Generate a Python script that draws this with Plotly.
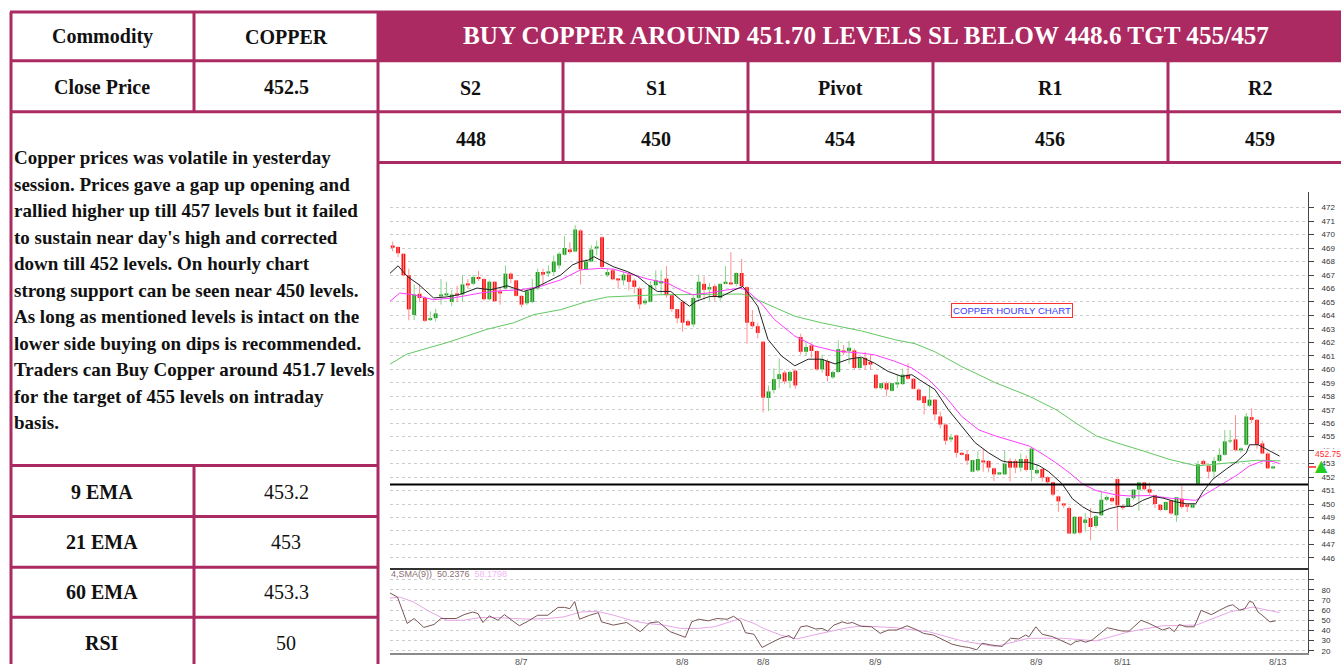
import plotly.graph_objects as go

W, H = 1341, 666

# ---------------- data ----------------
commodity_row = ["Commodity", "COPPER"]
close_row = ["Close Price", "452.5"]
headline = "BUY COPPER AROUND 451.70 LEVELS SL BELOW 448.6 TGT 455/457"
level_names = ["S2", "S1", "Pivot", "R1", "R2"]
level_values = ["448", "450", "454", "456", "459"]
indicator_names = ["9 EMA", "21 EMA", "60 EMA", "RSI"]
indicator_values = ["453.2", "453", "453.3", "50"]
commentary = [
    "Copper prices was volatile in yesterday",
    "session. Prices gave a gap up opening and",
    "rallied higher up till 457 levels but it failed",
    "to sustain near day's high and corrected",
    "down till 452 levels. On hourly chart",
    "strong support can be seen near 450 levels.",
    "As long as mentioned levels is intact on the",
    "lower side buying on dips is recommended.",
    "Traders can Buy Copper around 451.7 levels",
    "for the target of 455 levels on intraday",
    "basis.",
]
chart_title = "COPPER HOURLY CHART"
support_level = 451.45
last_price = 452.75
rsi_legend = "4,SMA(9))  50.2376"
rsi_sma_legend = "58.1798"

candle_open = [
    469.19, 469.07, 468.57, 466.98, 464.03, 465.60, 465.30, 463.65, 463.80, 465.45,
    465.55, 465.00, 465.60, 465.55, 466.35, 466.35, 466.85, 466.70, 465.20, 466.50,
    465.75, 466.00, 467.10, 466.60, 465.45, 464.90, 465.00, 466.00, 467.22, 467.15,
    467.22, 467.71, 468.50, 468.90, 468.75, 470.30, 467.42, 468.00, 469.00, 469.80,
    466.98, 467.35, 466.73, 466.60, 467.03, 466.60, 466.00, 464.90, 465.01, 466.24,
    466.44, 466.73, 465.50, 464.47, 465.00, 463.58, 463.33, 465.30, 466.34, 466.00,
    466.17, 465.30, 466.34, 466.45, 466.34, 467.15, 466.10, 463.53, 463.20, 462.05,
    457.87, 458.46, 459.27, 459.76, 459.15, 459.90, 462.40, 461.30, 461.78, 461.36,
    460.00, 460.60, 459.40, 459.80, 461.40, 461.35, 461.40, 460.10, 460.85, 460.55,
    459.60, 458.60, 458.97, 458.40, 458.90, 458.90, 459.60, 459.30, 458.50, 458.00,
    457.30, 457.75, 456.50, 455.90, 454.80, 455.10, 453.80, 453.70, 452.40, 452.50,
    453.20, 453.20, 452.65, 452.20, 452.20, 453.20, 453.20, 452.70, 453.34, 452.53,
    452.28, 452.60, 452.00, 451.62, 450.57, 450.00, 449.70, 447.82, 449.05, 448.60,
    448.97, 448.36, 449.17, 450.32, 450.45, 451.85, 449.85, 449.85, 450.44, 451.07,
    451.60, 451.10, 450.66, 449.95, 449.55, 450.27, 449.17, 450.39, 449.97, 449.73,
    451.50, 453.20, 452.85, 452.40, 453.20, 453.65, 454.65, 454.80, 454.05, 454.40,
    456.45, 456.25, 454.50, 453.75, 452.70]
candle_high = [
    469.48, 469.14, 468.60, 467.47, 466.30, 466.30, 465.40, 464.30, 464.50, 466.70,
    466.50, 465.90, 466.20, 467.00, 466.70, 467.00, 467.30, 466.75, 466.60, 466.55,
    466.10, 467.70, 467.20, 466.65, 465.50, 466.00, 466.70, 467.47, 467.47, 467.71,
    468.45, 468.70, 469.88, 469.43, 470.70, 470.40, 468.20, 469.20, 469.56, 469.88,
    467.47, 467.47, 466.75, 467.22, 467.22, 466.73, 466.12, 465.26, 466.54, 467.35,
    467.35, 467.66, 465.55, 464.50, 465.10, 463.70, 465.55, 467.03, 466.90, 466.40,
    466.34, 466.40, 467.65, 468.70, 467.20, 468.20, 466.15, 464.40, 463.45, 462.10,
    458.80, 460.07, 460.80, 459.90, 459.90, 460.00, 462.65, 461.97, 461.90, 461.40,
    461.10, 460.75, 459.90, 462.15, 461.80, 462.10, 461.55, 460.90, 461.30, 461.05,
    459.65, 459.00, 459.10, 459.00, 459.60, 460.05, 460.45, 459.35, 458.60, 458.00,
    458.80, 457.80, 456.85, 456.00, 455.20, 455.15, 453.85, 454.00, 453.30, 453.90,
    454.10, 453.25, 452.70, 452.35, 454.00, 453.40, 453.35, 453.75, 453.60, 454.25,
    453.00, 452.65, 452.05, 451.65, 450.64, 450.08, 449.83, 449.10, 449.10, 449.34,
    449.70, 449.20, 450.94, 450.64, 450.55, 451.90, 449.95, 450.50, 451.10, 451.65,
    451.65, 451.60, 450.70, 450.00, 450.20, 450.30, 450.50, 451.37, 450.00, 450.00,
    453.20, 453.30, 452.90, 453.50, 454.15, 455.50, 455.50, 456.60, 454.20, 456.75,
    457.10, 456.30, 454.70, 453.85, 452.85]
candle_low = [
    468.75, 468.33, 466.90, 463.64, 463.65, 465.00, 463.50, 463.60, 463.55, 464.80,
    465.50, 464.70, 465.00, 465.05, 466.00, 466.25, 466.55, 465.10, 465.10, 465.00,
    464.80, 465.90, 466.40, 465.40, 464.60, 464.77, 464.90, 465.87, 466.24, 466.85,
    466.98, 467.47, 468.45, 468.57, 468.70, 466.29, 467.35, 467.95, 468.45, 467.47,
    466.85, 466.60, 466.00, 466.24, 465.87, 465.63, 464.47, 464.77, 464.96, 466.00,
    465.50, 465.30, 464.27, 463.42, 462.80, 463.20, 463.13, 465.18, 465.18, 465.08,
    465.08, 465.08, 466.30, 466.25, 466.17, 465.90, 461.90, 463.10, 462.30, 456.80,
    456.90, 458.20, 458.60, 458.90, 458.60, 458.55, 461.10, 461.00, 460.85, 459.90,
    459.75, 459.10, 459.30, 459.75, 461.05, 460.40, 460.00, 460.05, 459.95, 459.95,
    458.50, 458.50, 458.00, 458.35, 458.60, 458.85, 459.20, 458.50, 457.65, 456.65,
    457.20, 456.20, 455.60, 454.40, 454.60, 453.45, 453.60, 452.90, 452.35, 452.40,
    452.40, 452.35, 451.70, 452.15, 452.15, 451.67, 452.30, 452.40, 452.40, 451.67,
    452.20, 451.67, 451.50, 450.57, 449.42, 449.70, 447.80, 447.75, 447.75, 447.95,
    447.30, 448.20, 449.10, 450.20, 450.10, 448.07, 449.55, 449.80, 450.30, 449.50,
    451.00, 450.70, 449.70, 449.45, 449.50, 449.20, 448.68, 449.65, 449.40, 449.70,
    451.40, 452.90, 451.90, 452.00, 453.10, 453.60, 454.50, 453.90, 453.80, 454.35,
    456.00, 454.10, 453.70, 452.60, 452.65]
candle_close = [
    469.02, 468.62, 466.98, 464.45, 465.55, 465.30, 463.60, 463.80, 464.15, 465.55,
    465.60, 465.55, 465.50, 466.30, 466.25, 466.85, 466.70, 465.20, 466.50, 465.05,
    465.70, 467.10, 466.70, 465.45, 464.80, 465.80, 466.00, 467.22, 467.03, 467.27,
    468.00, 468.57, 469.00, 468.70, 470.37, 467.42, 468.00, 468.90, 469.07, 467.60,
    467.22, 466.68, 466.60, 467.03, 466.49, 466.12, 464.82, 465.09, 466.24, 466.60,
    466.54, 465.50, 464.47, 463.78, 463.46, 463.26, 465.30, 466.50, 465.90, 466.10,
    465.40, 466.34, 466.50, 466.30, 467.15, 466.17, 463.46, 463.20, 462.70, 457.90,
    458.36, 459.27, 459.64, 459.10, 459.80, 458.80, 461.30, 461.66, 461.36, 460.00,
    460.75, 459.50, 459.80, 461.50, 461.25, 461.60, 460.10, 460.85, 460.30, 460.35,
    458.60, 458.97, 458.50, 458.97, 458.97, 459.60, 459.30, 458.55, 457.70, 457.50,
    457.75, 456.65, 455.90, 454.70, 454.90, 453.80, 453.65, 453.22, 453.26, 453.34,
    453.10, 452.70, 452.20, 452.28, 453.00, 452.70, 452.70, 453.34, 452.53, 454.12,
    452.53, 451.96, 451.62, 450.70, 450.20, 449.90, 447.82, 449.05, 447.87, 448.85,
    448.30, 449.10, 450.32, 450.52, 450.20, 449.90, 449.70, 450.44, 451.07, 451.60,
    451.10, 450.85, 450.00, 449.55, 450.15, 449.29, 450.50, 449.78, 449.80, 449.97,
    452.95, 452.95, 452.40, 453.20, 453.65, 454.65, 454.70, 454.00, 454.10, 456.50,
    456.25, 454.40, 453.75, 452.65, 452.75]

ema9_x = [-0.5, 1.0, 2.7, 4.9, 7.6, 10, 12.4, 15.7, 18.2, 21.3, 24.4, 26.3, 28.8, 31.3, 33.5, 35,
          36.4, 37.5, 39, 41.2, 43.7, 45.6, 47.5, 49.3, 51.8, 53.6, 55.3, 56.5, 59, 61.2, 63.7,
          65.2, 66.2, 68, 69.9, 72.4, 74.9, 77.4, 79.9, 82.4, 84.9, 87.3, 89.8, 92.3, 94.8, 96.7,
          98.6, 101, 103.5, 106, 108.5, 111, 113.5, 114.7, 118.4, 120.4, 122.2, 124.7, 126.6,
          128.5, 130.3, 131.6, 133.5, 135.3, 137.8, 139.7, 141.6, 143.5, 146, 147.8, 149.6,
          150.9, 152.8, 155.3, 157.1, 159, 159.6, 161.2, 162.7, 165.2]
ema9_y = [467.13, 467.68, 466.9, 466.28, 465.3, 465.37, 465.54, 466.03, 465.9, 466.2, 465.78,
          466.0, 466.5, 467.0, 467.75, 468.0, 468.1, 468.36, 468.04, 467.6, 467.26, 466.9,
          466.28, 465.78, 465.78, 465.17, 464.68, 465.05, 465.4, 465.4, 465.9, 466.15, 465.66,
          464.68, 462.22, 461.0, 460.26, 460.75, 460.75, 460.4, 460.75, 460.9, 460.45, 459.84,
          459.47, 459.6, 459.1, 458.5, 457.0, 455.8, 454.55, 453.8, 453.2, 453.1, 453.1,
          452.85, 452.4, 451.5, 450.4, 449.8, 449.4, 449.34, 449.66, 449.83, 449.83, 450.27,
          450.56, 450.44, 450.15, 450.02, 450.02, 450.9, 451.85, 452.6, 453.1, 453.8, 454.4,
          454.4, 454.1, 453.56]
ema21_x = [-0.5, 1.3, 3.8, 7.6, 11.3, 16.3, 20, 23.8, 27.5, 31.3, 35, 38.8, 41.2, 45, 47.5,
           51.2, 53.6, 55.8, 58.6, 62.4, 64.9, 66.2, 68.6, 71.1, 74.9, 78.6, 82.4, 87.3, 89.8,
           93.5, 96.7, 99.8, 102.9, 106, 109.2, 112.3, 115.4, 118.6, 121.3, 123.5, 126, 128.5,
           131, 134.7, 137.2, 140.9, 144.7, 148.4, 149.6, 151.5, 154.6, 157.1, 159.6, 162.1,
           164, 165.2]
ema21_y = [465.05, 465.66, 465.54, 465.17, 465.3, 465.66, 465.83, 465.9, 466.15, 466.64,
           467.38, 467.5, 467.43, 467.0, 466.7, 466.4, 465.9, 465.54, 465.66, 465.9, 466.03,
           465.78, 464.92, 463.7, 462.47, 461.73, 461.36, 461.2, 461.07, 460.6, 460.1, 459.25,
           458.0, 456.5, 455.5, 455.05, 454.67, 454.3, 453.65, 453.07, 452.34, 451.5, 451.0,
           450.68, 450.6, 450.63, 450.44, 450.27, 450.27, 450.76, 451.5, 452.1, 452.83, 453.2,
           453.15, 453.0]
ema60_x = [-0.5, 2.6, 5.7, 10, 13.8, 17.5, 22.5, 26.3, 31.3, 36.3, 40, 45, 50, 53.7, 59.9,
           64.9, 66.2, 69.9, 74.9, 79.9, 84.9, 87.3, 93.5, 97.3, 101, 106, 112.3, 118.6, 123.6,
           127.3, 131.1, 134.8, 139.8, 144.8, 149.8, 153.5, 157.3, 161, 165.4]
ema60_y = [460.38, 461.12, 461.48, 461.97, 462.47, 462.96, 463.45, 464.06, 464.43, 465.05,
           465.37, 465.46, 465.54, 465.54, 465.54, 465.59, 465.46, 464.8, 463.94, 463.45,
           463.08, 462.85, 462.2, 461.9, 461.3, 460.2, 459.0, 458.0, 457.0, 456.0, 455.05,
           454.55, 453.94, 453.3, 452.83, 452.96, 453.13, 453.25, 453.2]

rsi_x = [-0.5, 0.9, 2.7, 4, 5.8, 7.7, 9, 11.8, 13.3, 14.9, 15.9, 16.8, 18, 19.6, 20.8, 23.6,
         25.5, 27, 28.9, 30.8, 32, 33, 33.9, 34.8, 36.7, 38.3, 38.9, 41.1, 43.6, 46.1, 47.9,
         49.5, 51.7, 54.5, 55.7, 57, 58.8, 60.4, 62.3, 63.5, 64.8, 65.7, 67.3, 68.8, 70.7,
         72.2, 73.8, 74.7, 76, 77.2, 78.8, 80, 81, 82.2, 83.8, 84.7, 85.6, 87.3, 89.2, 90.8,
         92.3, 93.9, 95.8, 97.3, 98.9, 100.7, 102.6, 104.2, 106, 107.3, 108.8, 109.8, 111.3,
         113.5, 115.1, 116.6, 117.9, 118.5, 119.8, 121, 122.9, 124.7, 126.3, 127.2, 128.2,
         129.1, 130.3, 131.6, 133.1, 135.9, 137.2, 139.4, 140.9, 143.4, 144.7, 145.6, 146.5,
         147.8, 149.3, 150.6, 152.5, 154, 155.6, 156.5, 157.8, 158.7, 159.6, 160.2, 161.2,
         162.1, 163.4, 164.5]
rsi_y = [77, 72.9, 46.9, 51.8, 43, 45.9, 51.8, 51.8, 55.6, 58.2, 56.6, 47.9, 54.4, 50.1, 55.6,
         44.6, 50.1, 55, 55, 62.8, 62.8, 61.5, 68.6, 51.1, 55, 57.6, 48.5, 45.3, 47.9, 38.8,
         47.5, 48.5, 38.8, 33.2, 48.5, 51.1, 49.5, 51.8, 51.1, 54, 49.2, 37.8, 36.2, 23.2,
         28.4, 32.3, 34.9, 31.6, 43.6, 44.6, 41.4, 42, 39.4, 45.3, 48.5, 46.9, 47.9, 44,
         43.6, 37.1, 40.4, 40.4, 44.6, 41.4, 37.1, 35.5, 30.6, 26.4, 24.2, 23.2, 20.9, 27.4,
         25.8, 24.2, 32.3, 31.6, 35.5, 33.6, 43.6, 36.2, 33.9, 29.7, 25.8, 29, 30, 28.4, 30.6,
         36.2, 42.7, 39.4, 39.4, 50.1, 46.9, 40.4, 42.7, 38.8, 45.9, 43.6, 43.6, 59.9, 55.6,
         59.9, 64.1, 65.4, 59.9, 61.5, 68.6, 68, 58.2, 54.4, 48.5, 49.5]
rsi_sma_x = [-0.5, 1.4, 3.9, 7, 10.1, 13.2, 16.3, 19.4, 22.5, 25.6, 28.8, 31.9, 35, 38.1,
             41.2, 44.3, 47.4, 50.5, 53.6, 56.7, 59.9, 63, 64.8, 67.3, 69.1, 72.2, 75.3, 78.4,
             81.5, 84.7, 87.3, 93.6, 99.8, 106, 112.3, 118.5, 124.7, 131, 137.2, 143.4, 149.7,
             155.9, 160.2, 165.2]
rsi_sma_y = [71.9, 72.9, 68, 58.2, 50.1, 50.1, 52.7, 52.7, 51.8, 51.1, 51.8, 53.4, 58.2, 58.9,
             55, 50.1, 46.9, 45.3, 42, 42, 43.6, 48.5, 51.8, 46.9, 42, 35.5, 31.6, 35.5, 38.8,
             42.7, 44.5, 42.7, 38.8, 29.7, 24.2, 32.3, 32.3, 29.7, 38.8, 44.6, 45.3, 58.2, 63.1,
             57.6]

price_ticks = list(range(446, 473))
rsi_ticks = [20, 30, 40, 50, 60, 70, 80, 90]
date_tick_idx = [24, 54, 69, 90, 120, 136, 165]
date_tick_text = ["8/7", "8/8", "8/8", "8/9", "8/9", "8/11", "8/13"]

# ---------------- helpers ----------------
def px(x):
    return x / W


def py(y):
    return 1 - y / H


BORDER = "#ab2a62"
SERIF = "Liberation Serif"
SANS = "Liberation Sans"

fig = go.Figure()

# ---------------- candles ----------------
n = len(candle_close)
up = [i for i in range(n) if candle_close[i] >= candle_open[i]]
dn = [i for i in range(n) if candle_close[i] < candle_open[i]]


def wicks(idx):
    xs, ys = [], []
    for i in idx:
        xs += [i, i, None]
        ys += [candle_low[i], candle_high[i], None]
    return xs, ys


for idx, wcol in ((up, "#86d386"), (dn, "#ff8f8f")):
    wx, wy = wicks(idx)
    fig.add_trace(go.Scatter(x=wx, y=wy, mode="lines", line=dict(color=wcol, width=1),
                             xaxis="x", yaxis="y", hoverinfo="skip"))

for idx, bcol in ((up, "#1c9a1c"), (dn, "#ff1010")):
    fig.add_trace(go.Bar(
        x=idx,
        base=[min(candle_open[i], candle_close[i]) for i in idx],
        y=[max(abs(candle_close[i] - candle_open[i]), 0.07) for i in idx],
        width=0.72, marker=dict(color=bcol, line=dict(width=0)),
        xaxis="x", yaxis="y", hoverinfo="skip"))

# EMA lines
fig.add_trace(go.Scatter(x=ema60_x, y=ema60_y, mode="lines", line=dict(color="#62c862", width=1),
                         xaxis="x", yaxis="y"))
fig.add_trace(go.Scatter(x=ema21_x, y=ema21_y, mode="lines", line=dict(color="#ff3cff", width=1),
                         xaxis="x", yaxis="y"))
fig.add_trace(go.Scatter(x=ema9_x, y=ema9_y, mode="lines", line=dict(color="#222222", width=1),
                         xaxis="x", yaxis="y"))

# RSI
fig.add_trace(go.Scatter(x=rsi_sma_x, y=rsi_sma_y, mode="lines", line=dict(color="#e6a6e6", width=1),
                         xaxis="x2", yaxis="y2"))
fig.add_trace(go.Scatter(x=rsi_x, y=rsi_y, mode="lines", line=dict(color="#7a5656", width=1),
                         xaxis="x2", yaxis="y2"))

xrange = [-0.503, 170.5]
xdom = [px(390), px(1308)]

fig.update_layout(
    width=W, height=H, margin=dict(l=0, r=0, t=0, b=0),
    paper_bgcolor="white", plot_bgcolor="white", showlegend=False,
    barmode="overlay",
    xaxis=dict(domain=xdom, range=xrange, anchor="y", showgrid=False, zeroline=False,
               showticklabels=False, ticks="", showline=True, linecolor="#333333", linewidth=2),
    yaxis=dict(domain=[py(570), py(193)], range=[445.23, 473.13], anchor="x", side="right",
               tickvals=price_ticks, ticktext=[str(v) for v in price_ticks],
               showgrid=True, gridcolor="#cdcdcd", griddash="dot", gridwidth=1, zeroline=False,
               ticks="outside", ticklen=5, tickcolor="#444444", showline=True,
               linecolor="#444444", linewidth=1, ticklabelstandoff=6,
               tickfont=dict(family=SANS, size=8, color="#333333")),
    xaxis2=dict(domain=xdom, range=xrange, anchor="y2", showgrid=False, zeroline=False,
                showticklabels=False, ticks="", showline=True, linecolor="#8a8a8a", linewidth=2),
    yaxis2=dict(domain=[py(655), py(571)], range=[17.7, 100.4], anchor="x2", side="right",
                tickvals=rsi_ticks, ticktext=[("" if v == 90 else str(v)) for v in rsi_ticks],
                showgrid=True, gridcolor="#cdcdcd", griddash="dot", gridwidth=1, zeroline=False,
                ticks="outside", ticklen=5, tickcolor="#444444", showline=True,
                linecolor="#444444", linewidth=1, ticklabelstandoff=6,
                tickfont=dict(family=SANS, size=8, color="#333333")),
)

shapes = []
# hide top-left part of the two top gridlines
shapes.append(dict(type="rect", xref="paper", yref="paper", x0=px(389), x1=px(651),
                   y0=py(228), y1=py(194), fillcolor="white", line=dict(width=0), layer="between"))
# support line
shapes.append(dict(type="line", xref="x domain", yref="y", x0=0, x1=1, y0=support_level,
                   y1=support_level, line=dict(color="black", width=2)))
# last price dash
shapes.append(dict(type="line", xref="paper", yref="y", x0=px(1308), x1=px(1316), y0=last_price,
                   y1=last_price, line=dict(color="#ff2020", width=1.5)))

# banner
shapes.append(dict(type="rect", xref="paper", yref="paper", x0=px(378), x1=px(1341), y0=py(61),
                   y1=py(12), fillcolor=BORDER, line=dict(width=0)))
hlines = [(12, 10, 1341), (61, 10, 1341), (112, 10, 1341), (163, 378, 1341),
          (467, 10, 378), (518, 10, 378), (569, 10, 378), (619, 10, 378)]
vlines = [(11, 12, 666), (194, 12, 112), (194, 467, 666), (378, 12, 666),
          (563, 61, 163), (748, 61, 163), (933, 61, 163), (1168, 61, 163)]
for y, x0, x1 in hlines:
    shapes.append(dict(type="line", xref="paper", yref="paper", x0=px(x0), x1=px(x1), y0=py(y),
                       y1=py(y), line=dict(color=BORDER, width=3)))
for x, y0, y1 in vlines:
    shapes.append(dict(type="line", xref="paper", yref="paper", x0=px(x), x1=px(x), y0=py(y0),
                       y1=py(y1), line=dict(color=BORDER, width=3)))
fig.update_layout(shapes=shapes)

ann = []


def text(x, y, t, size=20, bold=True, color="#111111", xanchor="center", family=SERIF):
    s = f"<b>{t}</b>" if bold else t
    ann.append(dict(x=px(x), y=py(y), xref="paper", yref="paper", text=s, showarrow=False,
                    xanchor=xanchor, yanchor="middle", font=dict(family=family, size=size, color=color)))


text(102, 37, commodity_row[0])
text(286, 37, commodity_row[1])
text(102, 87, close_row[0])
text(286, 87, close_row[1])
text(866, 36, headline, size=25.2, color="white")
for xc, nm, val in zip([471, 656, 840, 1050, 1260], level_names, level_values):
    text(xc, 88, nm)
    text(xc, 139, val)
for yc, nm, val in zip([493, 544, 594, 645], indicator_names, indicator_values):
    text(102, yc, nm)
    text(286, yc, val, bold=False)
for k, line in enumerate(commentary):
    text(12, 158 + 26.6 * k, line, size=19.0, xanchor="left")

# chart annotations
ann.append(dict(x=px(1012), y=py(311), xref="paper", yref="paper", xanchor="center",
                yanchor="middle", text=chart_title,
                showarrow=False, font=dict(family=SANS, size=9.6, color="#3a3aff"),
                bordercolor="#ff3030", borderwidth=1, borderpad=1, bgcolor="white"))
ann.append(dict(x=px(389), y=py(576), xref="paper", yref="paper", xanchor="left",
                yanchor="middle",
                text=f"{rsi_legend}  <span style='color:#f2b6f2'>{rsi_sma_legend}</span>",
                showarrow=False, font=dict(family=SANS, size=9, color="#8a7070")))
ann.append(dict(x=px(1314), y=py(455), xref="paper", yref="paper", xanchor="left",
                yanchor="middle",
                text=f"{last_price:.2f}", showarrow=False, bgcolor="white", borderpad=0,
                font=dict(family=SANS, size=8.5, color="#ff3030")))
ann.append(dict(x=px(1321), y=py(467), xref="paper", yref="paper", xanchor="center",
                yanchor="middle", text="▲", showarrow=False,
                font=dict(family="DejaVu Sans", size=16, color="#22cc22")))
for i, t in zip(date_tick_idx, date_tick_text):
    ann.append(dict(x=i, xref="x2", y=py(657), yref="paper", xanchor="center", yanchor="top",
                    text=t, showarrow=False, font=dict(family=SANS, size=9, color="#555555")))
fig.update_layout(annotations=ann)

fig.write_html("out.html", config={"displayModeBar": False},
               post_script="document.body.style.margin='0';")
